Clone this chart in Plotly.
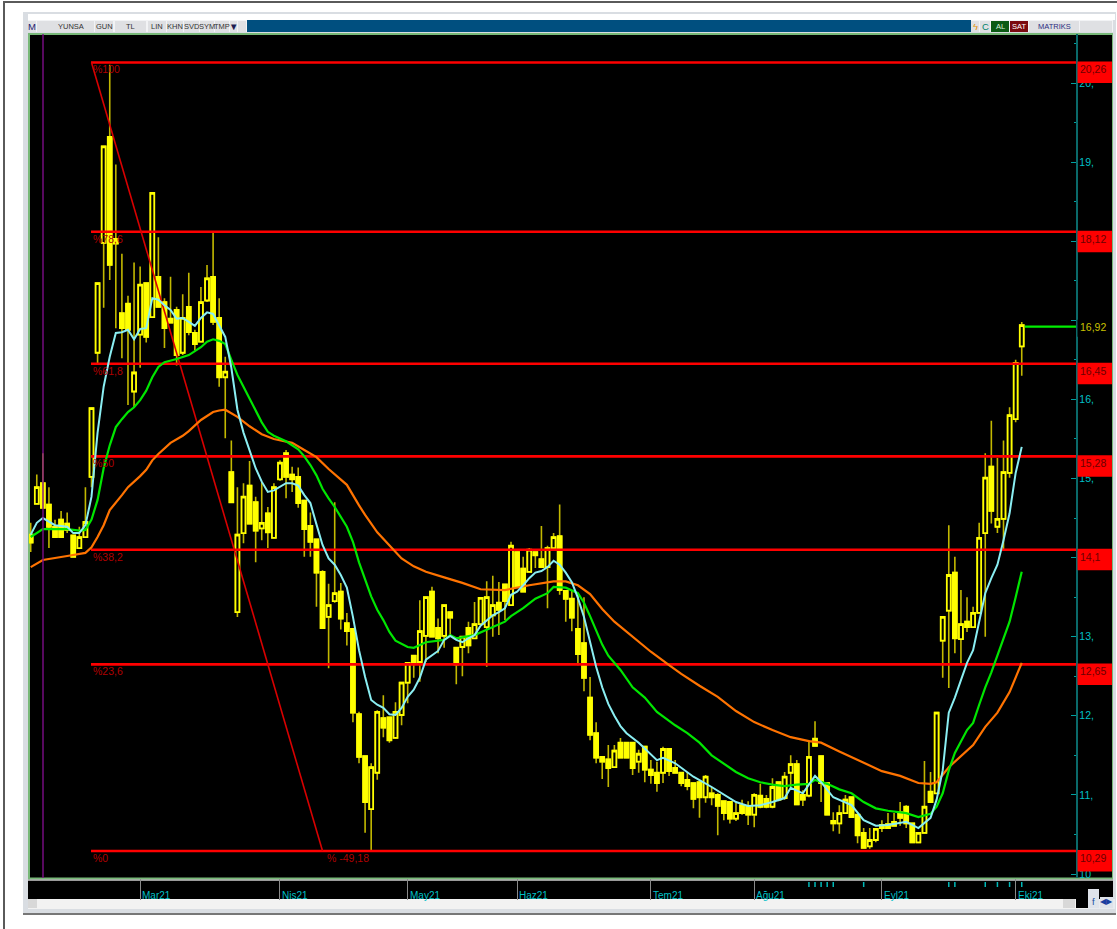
import plotly.graph_objects as go

opens = [14.29,14.68,14.94,14.67,14.39,14.48,14.43,14.28,14.12,14.26,
15.02,16.59,17.98,19.32,18.03,17.09,17.21,16.10,16.82,17.47,
17.04,17.55,17.23,17.02,17.13,16.59,17.17,16.84,16.73,17.25,
17.55,17.03,16.28,15.08,13.31,14.31,14.91,14.70,14.37,14.56,
14.25,14.99,15.32,15.05,15.02,14.72,14.40,14.23,13.82,13.25,
13.45,13.57,13.17,13.10,12.02,11.49,10.82,11.28,11.97,11.98,
11.72,12.01,12.42,12.76,12.68,13.01,13.57,13.11,13.01,13.31,
12.86,12.87,13.11,12.98,13.16,13.12,13.27,13.43,13.66,13.40,
14.07,13.86,13.82,14.07,13.98,13.88,14.12,14.27,13.58,13.48,
13.10,12.92,12.23,11.78,11.48,11.45,11.35,11.66,11.66,11.66,
11.42,11.61,11.32,11.28,11.28,11.58,11.34,11.28,11.19,11.15,
11.16,10.97,11.02,11.00,10.92,10.91,10.70,10.87,10.85,10.75,
10.99,10.95,10.85,11.16,10.96,11.28,11.39,11.00,10.99,11.71,
11.49,11.15,10.67,10.64,10.77,10.97,10.75,10.52,10.35,10.43,
10.62,10.63,10.66,10.78,10.85,10.64,10.40,10.52,11.04,11.02,
12.95,13.33,13.81,12.97,13.19,13.12,13.30,14.31,15.15,14.39,
14.49,15.07,15.75,16.67]
closes = [14.19,14.89,14.63,14.39,14.26,14.26,14.35,14.01,14.26,14.45,
15.89,17.47,19.20,17.70,17.97,16.90,16.88,16.34,17.45,16.79,
18.61,17.17,16.90,16.97,16.56,17.03,16.85,16.70,17.23,17.53,
16.98,16.28,16.35,14.70,14.29,14.77,14.43,14.34,14.44,14.32,
14.89,15.20,15.02,14.99,14.69,14.36,14.20,13.81,13.11,13.40,
13.55,13.23,13.07,12.04,11.48,10.91,11.35,12.05,11.85,11.69,
12.05,12.42,12.67,12.67,13.07,13.50,13.00,12.98,13.40,13.24,
12.65,13.00,12.89,13.16,13.49,13.50,13.40,13.34,13.45,14.15,
13.63,13.57,14.10,14.03,13.88,14.12,14.26,13.59,13.48,13.24,
12.78,12.48,11.76,11.47,11.42,11.34,11.56,11.47,11.47,11.34,
11.52,11.32,11.25,11.15,11.58,11.30,11.28,11.15,11.11,10.95,
10.97,11.23,10.97,10.86,10.77,10.70,10.77,10.77,10.75,11.00,
10.85,10.85,11.10,10.94,11.23,11.39,10.88,10.94,11.48,11.62,
11.15,10.75,10.64,10.77,10.94,10.72,10.49,10.33,10.43,10.57,
10.58,10.58,10.61,10.71,10.64,10.40,10.52,10.85,10.91,12.04,
13.25,13.78,12.98,13.16,13.12,13.30,14.25,15.01,14.59,14.49,
15.08,15.80,16.46,16.94]
highs = [14.44,15.05,15.32,14.89,14.48,14.59,14.57,14.28,14.39,14.89,
15.89,17.47,19.20,20.23,18.97,17.84,17.31,17.73,17.68,17.48,
18.61,18.05,17.28,17.55,17.17,17.33,17.60,16.88,17.42,17.70,
18.12,17.28,16.54,15.48,14.89,14.94,15.22,14.77,14.96,14.64,
14.94,15.23,15.36,15.15,15.14,14.72,14.57,14.23,13.84,13.67,
14.70,13.68,13.30,13.10,12.05,11.49,11.40,12.07,12.26,11.98,
12.17,12.42,12.68,12.76,13.46,13.50,13.63,13.23,13.40,13.31,
12.86,13.00,13.19,13.44,13.50,13.70,13.77,13.69,13.66,14.20,
14.07,14.01,14.12,14.07,14.40,14.15,14.31,14.67,13.58,13.59,
13.53,13.50,12.49,11.92,11.49,11.63,11.63,11.72,11.66,11.66,
11.57,11.61,11.44,11.42,11.61,11.58,11.44,11.28,11.29,11.15,
11.19,11.25,11.10,11.02,10.92,10.91,10.90,10.94,10.92,11.02,
11.14,11.00,11.21,11.16,11.29,11.50,11.44,11.06,11.69,11.93,
11.49,11.15,10.78,10.87,11.00,10.97,10.75,10.58,10.58,10.57,
10.68,10.77,10.77,10.91,10.87,10.64,10.52,11.43,11.29,12.04,
13.25,14.41,14.01,13.59,13.50,13.38,14.44,15.32,15.73,15.26,
15.48,15.90,16.50,16.98]
lows = [14.07,14.67,14.63,14.12,14.25,14.26,14.31,14.01,14.12,14.26,
14.89,16.46,17.16,17.51,16.90,16.52,15.93,15.90,16.40,16.72,
17.04,17.16,16.65,16.97,16.43,16.56,16.81,16.62,16.73,17.23,
16.94,16.16,15.51,14.70,13.25,14.18,14.43,13.94,14.22,14.12,
14.25,14.97,14.75,14.83,14.63,14.01,14.01,13.38,13.11,12.60,
13.43,13.09,12.89,11.92,11.40,10.52,10.30,11.19,11.73,11.66,
11.72,11.88,12.16,12.48,12.43,12.68,13.00,12.79,12.86,13.00,
12.40,12.50,12.79,12.97,13.15,12.62,13.00,13.02,13.21,13.40,
13.63,13.57,13.82,13.87,13.88,13.36,14.12,13.53,13.19,13.07,
12.64,12.31,11.69,11.40,11.20,11.10,11.35,11.47,11.47,11.25,
11.28,11.16,11.14,11.04,11.15,11.24,11.28,11.11,11.06,10.83,
10.71,10.90,10.87,10.49,10.68,10.64,10.67,10.75,10.62,10.59,
10.83,10.83,10.83,10.92,10.94,11.10,10.87,10.86,10.97,11.61,
10.91,10.75,10.54,10.51,10.77,10.71,10.39,10.32,10.32,10.40,
10.53,10.58,10.61,10.61,10.58,10.39,10.39,10.52,10.91,11.02,
12.48,12.35,12.79,12.65,13.06,13.12,13.30,13.00,14.43,14.31,
14.10,15.01,15.71,16.30]

ma_fast_i = [0,1,2,3,4,6,7,8,9,10,11,12,13,14,15,16,17,18,19,20,21,22,23,24,25,26,27,28,29,30,
31,32,33,34,35,36,37,38,39,40,41,42,43,44,45,46,47,48,49,50,51,52,53,54,55,56,57,58,59,60,61,62,
63,64,65,66,67,68,69,70,71,72,73,74,75,76,77,78,79,80,81,82,83,84,85,86,87,88,89,
90,91,92,93,94,95,96,97,98,100,103,104,106,109,112,114,116,118,120,122,124,125,127,129,130,132,135,137,139,141,144,146,148,149,
150,151,152,153,154,155,156,157,158,159,160,161,162,163]
ma_fast = [14.29,14.44,14.50,14.45,14.41,14.39,14.31,14.31,14.41,14.77,15.58,16.16,16.54,16.84,16.85,16.88,16.76,16.89,16.90,17.28,17.26,17.19,17.13,17.02,17.03,16.98,16.93,17.03,17.10,17.08,
16.94,16.79,16.40,15.87,15.58,15.34,15.13,14.96,14.83,14.85,14.89,14.94,14.94,14.91,14.79,14.69,14.42,14.16,13.99,13.91,13.78,13.62,13.25,12.83,12.49,12.20,12.14,12.10,12.02,12.01,12.10,12.24,
12.33,12.48,12.71,12.77,12.82,12.96,13.01,12.96,12.93,12.98,13.02,13.14,13.21,13.27,13.31,13.36,13.53,13.57,13.65,13.74,13.81,13.83,13.88,13.96,13.91,13.81,13.69,
13.49,13.25,12.93,12.62,12.36,12.15,12.00,11.87,11.78,11.66,11.44,11.47,11.40,11.23,11.10,11.00,10.91,10.86,10.87,10.91,10.96,11.09,11.02,11.24,11.16,10.97,10.87,10.68,10.61,10.62,10.66,10.58,10.71,10.94,
11.31,12.04,12.23,12.45,12.67,12.83,13.19,13.55,13.74,13.91,14.22,14.56,15.07,15.40]

ma_mid_i = [0,2,6,8,9,10,11,12,13,14,15,16,17,18,19,20,21,22,24,26,27,28,29,30,31,32,33,34,35,36,37,38,39,40,42,44,45,46,47,48,49,50,52,53,54,55,56,57,58,59,60,62,63,65,68,69,70,73,76,78,79,81,83,85,86,88,90,91,92,93,94,95,97,99,101,103,106,108,110,112,114,116,118,120,122,124,126,128,129,131,133,135,137,139,141,144,146,148,149,150,151,152,154,155,156,157,158,160,161,162,163]
ma_mid = [14.26,14.36,14.36,14.34,14.35,14.48,14.73,15.13,15.42,15.65,15.75,15.84,15.90,15.99,16.11,16.28,16.41,16.47,16.51,16.56,16.61,16.66,16.73,16.76,16.74,16.70,16.50,16.31,16.16,16.01,15.85,15.71,15.59,15.54,15.47,15.37,15.28,15.17,15.04,14.87,14.75,14.64,14.39,14.20,13.94,13.72,13.51,13.34,13.21,13.06,12.95,12.87,12.86,12.93,12.96,13.02,12.98,13.02,13.12,13.19,13.26,13.36,13.48,13.55,13.63,13.62,13.55,13.43,13.26,13.07,12.90,12.76,12.58,12.36,12.23,12.05,11.88,11.78,11.66,11.50,11.40,11.29,11.21,11.16,11.13,11.11,11.13,11.14,11.19,11.14,11.07,11.02,10.91,10.83,10.80,10.77,10.72,10.76,10.85,11.02,11.31,11.53,11.82,11.91,12.14,12.36,12.55,12.96,13.19,13.50,13.82]

ma_slow_i = [0,2,6,9,10,11,12,13,15,16,18,19,20,21,23,25,26,28,30,31,32,34,36,38,40,42,43,45,47,49,51,52,54,55,57,59,61,63,65,68,71,74,78,82,86,88,90,92,94,96,99,102,105,107,110,113,116,119,122,125,128,130,133,135,138,140,143,146,148,149,151,153,155,157,159,161,163]
ma_slow = [13.88,13.97,14.02,14.06,14.13,14.26,14.41,14.60,14.79,14.89,15.03,15.11,15.23,15.31,15.45,15.54,15.60,15.74,15.84,15.86,15.87,15.78,15.66,15.56,15.50,15.47,15.45,15.36,15.27,15.12,14.99,14.92,14.66,14.54,14.32,14.15,13.99,13.89,13.82,13.75,13.68,13.60,13.59,13.65,13.70,13.70,13.65,13.54,13.35,13.19,13.00,12.81,12.64,12.53,12.38,12.24,12.06,11.92,11.82,11.73,11.68,11.66,11.55,11.48,11.37,11.30,11.24,11.15,11.14,11.16,11.35,11.49,11.63,11.86,12.04,12.30,12.67]

fib_levels = [20.26, 18.12, 16.45, 15.28, 14.10, 12.65, 10.29]
fib_level_text = ["20,26", "18,12", "16,45", "15,28", "14,1", "12,65", "10,29"]
fib_pct_text = ["%100", "%78,6", "%61,8", "%50", "%38,2", "%23,6", "%0"]
swing_i = [10, 48]
swing_y = [20.26, 10.29]
swing_text = "% -49,18"
last_price = 16.92
last_text = "16,92"
y_ticks = [10, 11, 12, 13, 14, 15, 16, 17, 18, 19, 20]
y_tick_text = ["10", "11,", "12,", "13,", "", "15,", "16,", "", "", "19,", "20,"]
month_i = [18, 41, 62, 80, 102, 119, 140, 162]
month_text = ["Mar21", "Nis21", "May21", "Haz21", "Tem21", "Ağu21", "Eyl21", "Eki21"]
mark_i = [128, 129, 130, 131, 132, 137, 151, 152, 157, 159, 161, 163]

# pixel helpers for the window chrome
W, H = 1117, 929
L, R, T, B = 29, 1112, 34, 878
def fx(p): return (p - L) / (R - L)
def fy(p): return (B - p) / (B - T)
x0 = (L - 30.7) / 6.08
x1 = (R - 30.7) / 6.08
y1 = 10 + (874 - T) / 79.1
y0 = 10 + (874 - B) / 79.1
AXIS_PX = 1076.5
xa = (AXIS_PX - 30.7) / 6.08
idx = list(range(len(opens)))

fig = go.Figure()
WICK = "#c2b800"
YEL = "#ffff00"
fig.add_trace(go.Candlestick(x=idx, open=opens, high=highs, low=lows, close=closes,
    increasing=dict(line=dict(color=WICK, width=1.6), fillcolor="#000000"),
    decreasing=dict(line=dict(color=WICK, width=1.6), fillcolor=YEL),
    whiskerwidth=0, hoverinfo="skip", showlegend=False))
fig.add_trace(go.Candlestick(x=idx, open=opens, close=closes,
    high=[max(a, b) for a, b in zip(opens, closes)],
    low=[min(a, b) for a, b in zip(opens, closes)],
    increasing=dict(line=dict(color=YEL, width=1.8), fillcolor="#000000"),
    decreasing=dict(line=dict(color=YEL, width=1.8), fillcolor=YEL),
    whiskerwidth=0, hoverinfo="skip", showlegend=False))

for lv in fib_levels:
    fig.add_trace(go.Scatter(x=[(91 - 30.7) / 6.08, xa], y=[lv, lv], mode="lines",
        line=dict(color="#ff0000", width=2.6), hoverinfo="skip", showlegend=False))
fig.add_trace(go.Scatter(x=swing_i, y=swing_y, mode="lines",
    line=dict(color="#d80000", width=1.6), hoverinfo="skip", showlegend=False))
fig.add_trace(go.Scatter(x=ma_slow_i, y=ma_slow, mode="lines",
    line=dict(color="#ff7300", width=2.2), hoverinfo="skip", showlegend=False))
fig.add_trace(go.Scatter(x=ma_mid_i, y=ma_mid, mode="lines",
    line=dict(color="#00e600", width=2.2), hoverinfo="skip", showlegend=False))
fig.add_trace(go.Scatter(x=ma_fast_i, y=ma_fast, mode="lines",
    line=dict(color="#8aeef2", width=2.0), hoverinfo="skip", showlegend=False))
fig.add_trace(go.Scatter(x=[idx[-1] + 0.5, xa], y=[last_price, last_price], mode="lines",
    line=dict(color="#00f000", width=2.2), hoverinfo="skip", showlegend=False))

shapes = []
def rect(x_a, y_a, x_b, y_b, fill, layer="below"):
    shapes.append(dict(type="rect", xref="paper", yref="paper", layer=layer,
        x0=fx(x_a), x1=fx(x_b), y0=fy(y_b), y1=fy(y_a), fillcolor=fill, line=dict(width=0)))

# outer frame
rect(3, 1, 5, 929, "#5a5a5a")
rect(3, 1, 1117, 3, "#5a5a5a")
rect(23, 12, 1116, 914, "#d9dde2")
rect(28, 14, 1115, 20, "#ffffff")
rect(23, 913, 1116, 915, "#777777")
# toolbar
rect(28, 20, 1113, 32, "#f2f3f5")
rect(247, 20, 971, 32, "#004f7f")
for a, b in [(28, 36), (37, 48), (48, 94), (95, 113), (115, 146), (148, 166), (167, 183), (184, 199),
             (200, 214), (215, 229), (230, 237), (238, 246), (971, 979), (980, 990), (1029, 1079), (1080, 1112)]:
    rect(a, 21, b, 32, "#dfe0e3")
rect(991, 21, 1009, 32, "#0b5a14")
rect(1010, 21, 1028, 32, "#7a0a10")
# panel
rect(28, 33, 1113, 879.5, "#78b878")
rect(30, 35, 1112, 877.5, "#000000")
rect(28, 879.5, 1113, 881, "#9a9a9a")
rect(28, 881, 1113, 899, "#000000")
rect(28, 899, 1063, 909, "#f2f2f2")
rect(1063, 899, 1088, 909, "#f2f2f2")
rect(1088, 899, 1115, 909, "#e8ebef")
rect(28, 899, 37, 908, "#d8d8d8")
rect(1063, 899, 1075, 908, "#d8d8d8")
rect(1076, 899, 1088, 908, "#000000")
rect(1088, 889, 1099, 908, "#dfe3ea")
rect(1100, 897, 1113, 908, "#dfe3ea")

# purple vertical
shapes.append(dict(type="line", xref="paper", yref="paper", layer="above",
    x0=fx(43), x1=fx(43), y0=0, y1=1, line=dict(color="#7d0d88", width=1.4)))
# right hand price boxes
for lv in fib_levels:
    shapes.append(dict(type="rect", xref="paper", yref="y", layer="above",
        x0=fx(1077.5), x1=1, y0=lv - 20.5 / 79.1, y1=lv + 1 / 79.1,
        fillcolor="#ff0000", line=dict(width=0)))
shapes.append(dict(type="rect", xref="paper", yref="y", layer="above",
    x0=fx(1077.5), x1=1, y0=last_price - 10 / 79.1, y1=last_price + 7 / 79.1,
    fillcolor="#000000", line=dict(width=0)))
# signal marks in the date strip
for m in mark_i:
    shapes.append(dict(type="line", xref="x", yref="paper", layer="above", x0=m, x1=m,
        y0=fy(882), y1=fy(887), line=dict(color="#00b8b8", width=1.5)))

ann = []
FONT = "Liberation Sans"
def text(xv, yv, s, color, size=10, xref="paper", yref="paper", xanchor="left", yanchor="middle"):
    ann.append(dict(x=xv, y=yv, xref=xref, yref=yref, text=s,
        showarrow=False, xanchor=xanchor, yanchor=yanchor, borderpad=0,
        font=dict(family=FONT, size=size, color=color)))

for lv, s, p in zip(fib_levels, fib_level_text, fib_pct_text):
    text(fx(1079), lv - 7 / 79.1, s, "#6a0000", size=10.5, yref="y")
    text(fx(92), lv - 7 / 79.1, p, "#b00000", size=10.5, yref="y")
text(fx(326), swing_y[1] - 7 / 79.1, swing_text, "#b00000", size=10.5, yref="y")
text(fx(1079), last_price, last_text, "#c8c000", size=10.5, yref="y")
for m, s in zip(month_i, month_text):
    text(m + 0.2, fy(895), s, "#00c0c8", size=10, xref="x")
for cx, s, c in [(32, "M", "#1c1c70"), (71, "YUNSA", "#333333"), (104, "GUN", "#333333"), (130, "TL", "#333333"),
                 (157, "LIN", "#333333"), (175, "KHN", "#333333"), (191.5, "SVD", "#333333"), (207, "SYM", "#333333"),
                 (222, "TMP", "#333333"), (233.5, "▼", "#1c1c50"), (975, "ϟ", "#e09000"), (985, "C", "#00806a"),
                 (1000, "AL", "#d8f0d8"), (1019, "SAT", "#ffffff"), (1054, "MATRIKS", "#2c2c80"),
                 (1093.5, "f", "#2050a0"), (1106, "◀▶", "#1a3fa0")]:
    text(fx(cx), fy(26.5) if cx < 1090 else fy(901), s, c, size=7.5 if len(s) > 1 else 9.5, xanchor="center")

fig.update_layout(
    width=W, height=H, margin=dict(l=L, r=W - R, t=T, b=H - B),
    paper_bgcolor="#ffffff", plot_bgcolor="#000000",
    showlegend=False, boxmode="overlay", boxgap=0.36, boxgroupgap=0, hovermode=False,
    shapes=shapes, annotations=ann,
    xaxis=dict(range=[x0, x1], rangeslider=dict(visible=False), showgrid=False, zeroline=False,
        tickmode="array", tickvals=month_i, ticktext=[""] * len(month_i), ticks="outside",
        ticklen=21, tickwidth=1, tickcolor="#8a8a8a", showticklabels=False, showline=False),
    yaxis=dict(range=[y0, y1], showgrid=False, zeroline=False, side="right", anchor="free",
        position=fx(AXIS_PX), tickmode="array", tickvals=y_ticks, ticktext=y_tick_text,
        ticks="inside", ticklen=5, tickwidth=1, tickcolor="#00a0a0", showline=True, linecolor="#0a6a6a", linewidth=1.5,
        tickfont=dict(family=FONT, size=10.5, color="#00c0c8"),
        minor=dict(tickmode="array", tickvals=[v + 0.5 for v in y_ticks], ticks="inside", ticklen=2, tickcolor="#00a0a0", tickwidth=1)),
)
fig.write_html("out.html", config={"displayModeBar": False},
               post_script="document.body.style.margin='0';document.body.style.overflow='hidden';")
